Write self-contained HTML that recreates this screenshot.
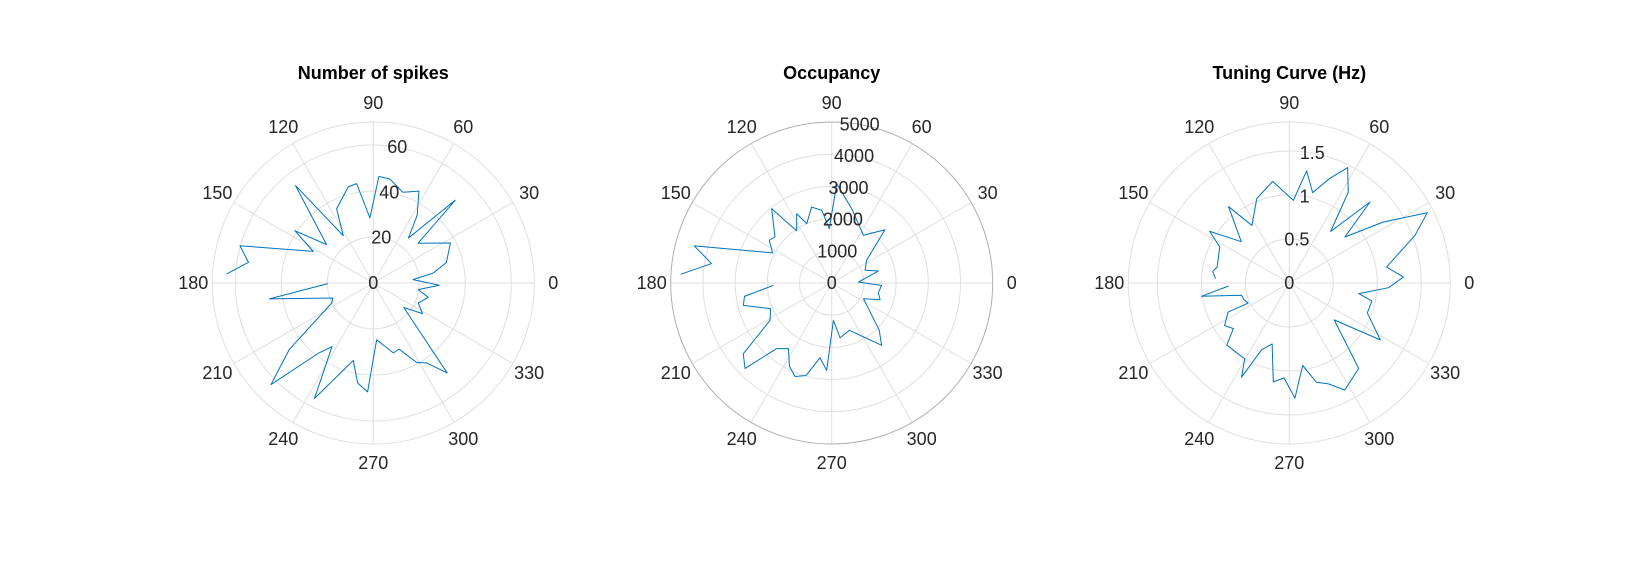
<!DOCTYPE html>
<html><head><meta charset="utf-8"><style>
body{margin:0;background:#fff;}
svg{display:block;}
text{font-family:"Liberation Sans",Arial,sans-serif;fill:#262626;}
</style></head><body>
<svg id="fig" width="1631" height="585" viewBox="0 0 1631 585" xmlns="http://www.w3.org/2000/svg"></svg>
<script>
const spikesAngles=[-179.2,-171.3,-159.7,-154.4,-141.6,-135.2,-128,-123,-117,-104.5,-98.9,-93,-86.6,-74,-68.7,-61.4,-56.3,-50.6,-38.8,-31.9,-24,-14.6,-8.4,-2,4.8,9.5,15.7,27.4,41.6,45.3,52,57,63.6,72,81,87,93,99.5,104.6,116.3,122.4,128.6,140.6,146.3,152.2,164.4,170.6,176.5];
const spikesValues=[19.8,45.7,18.8,20,46.7,62.7,38.7,33,56.3,34.8,44,47.4,24.7,31.6,30.8,39.3,41.8,50.6,17,25.2,21.4,24.7,19.7,28.7,17.4,26.4,33,37.8,26,50.6,24.8,35,44.6,41.5,45.8,46.4,28.3,43.8,43.2,36,24.4,54.2,26.3,41,29.5,60.2,55,64];
const occAngles=[-177.7,-171.3,-165.8,-157.2,-148.8,-141.3,-135.4,-130,-123.4,-116.9,-111.4,-105.5,-98.9,-93.3,-87.4,-81.3,-69.5,-51.3,-44.8,-26.3,-19,-12,-2.7,2,14.4,20.8,33,45,56.4,74.9,87.1,92.5,97.8,104.8,112.8,116.8,123.9,128.9,140.9,145.6,153,164.9,170.8,176.7];
const occValues=[1810,2740,2830,2060,2240,3520,3780,2660,2440,2900,3120,2980,2350,2720,1160,1720,1570,2480,2080,1100,1590,1480,1550,830,1500,1110,1290,2340,1780,2390,3090,1690,2280,2440,2000,2410,1950,2970,2270,2350,2060,4420,3780,4700];
const tuneAngles=[-177.2,-171.4,-165.6,-160,-154,-154.6,-146.7,-140.8,-135.2,-120.4,-116.9,-112.5,-105.7,-99.2,-93.2,-87.2,-80.8,-74.7,-68.8,-62.6,-50.9,-39.4,-32,-21,-12.3,-8.7,-2.7,3,9.3,20.8,27,33,39.6,45.1,51.3,57,63.2,69,75.5,81.2,87.2,99.3,111,123,128.5,139.3,147,152.6,167.6,171.3,176.7];
const tuneValues=[0.69,1.01,0.56,0.55,0.52,0.77,0.88,0.82,1.00,1.00,1.20,0.82,0.72,1.14,1.08,1.31,0.95,1.17,1.23,1.37,1.25,0.66,1.22,0.95,0.96,0.80,1.13,1.30,1.12,1.53,1.76,1.27,0.82,1.30,0.75,1.23,1.47,1.27,1.06,1.29,0.94,1.17,1.03,0.78,1.11,0.72,1.08,0.89,0.84,0.88,0.84];
const spikesTicks=[0,20,40,60];
const occTicks=[0,1000,2000,3000,4000,5000];
const tuneTicks=[0,0.5,1,1.5];
const thetaTicks=[0,30,60,90,120,150,180,210,240,270,300,330];

const NS="http://www.w3.org/2000/svg";
const svg=document.getElementById('fig');
function mk(tag,attrs,parent){const e=document.createElementNS(NS,tag);for(const k in attrs)e.setAttribute(k,attrs[k]);(parent||svg).appendChild(e);return e;}

function polar(cx,cy,R,rmax,ticks,angles,values,title,name,darkEdge){
  const g=mk('g',{});
  
  
  const rs=v=>v/rmax*R;
  const px=(a,v)=>cx+rs(v)*Math.cos(a*Math.PI/180);
  const py=(a,v)=>cy-rs(v)*Math.sin(a*Math.PI/180);
  ticks.forEach(t=>{ if(t>0 && rs(t)<R-2){const c=mk('circle',{cx:cx,cy:cy,r:rs(t),fill:'none',stroke:'#dfdfdf','stroke-width':1},g);
    
    }});
  thetaTicks.forEach(a=>{const l=mk('line',{x1:cx,y1:cy,x2:cx+R*Math.cos(a*Math.PI/180),y2:cy-R*Math.sin(a*Math.PI/180),stroke:'#dfdfdf','stroke-width':1},g);
    
    
    const t=mk('text',{x:cx+180*Math.cos(a*Math.PI/180),y:cy-180*Math.sin(a*Math.PI/180)+6,'text-anchor':'middle','font-size':18},g);
    t.textContent=a;
    
    });
  const oc=mk('circle',{cx:cx,cy:cy,r:R,fill:'none',stroke:darkEdge?'#b0b0b0':'#dfdfdf','stroke-width':1},g);
  
  
  let d='';
  angles.forEach((a,i)=>{d+=(i?'L':'M')+px(a,values[i]).toFixed(2)+','+py(a,values[i]).toFixed(2);});
  const p=mk('path',{d:d,fill:'none',stroke:'#0072BD','stroke-width':1,'stroke-linejoin':'round'},g);
  
  
  ticks.forEach(t=>{const tx=mk('text',{x:px(80,t),y:py(80,t)+6,'text-anchor':'middle','font-size':18},g);
    tx.textContent=t;
    
    });
  const tt=mk('text',{x:cx,y:79,'text-anchor':'middle','font-size':18,'font-weight':'bold',style:'fill:#000'},g);
  tt.textContent=title;
  
  
}
polar(373.3,283,161,70,spikesTicks,spikesAngles,spikesValues,'Number of spikes','spikes-polar-plot',false);
polar(831.7,283,161,5000,occTicks,occAngles,occValues,'Occupancy','occupancy-polar-plot',true);
polar(1289.3,283,161,1.83,tuneTicks,tuneAngles,tuneValues,'Tuning Curve (Hz)','tuning-polar-plot',false);
</script>
</body></html>
